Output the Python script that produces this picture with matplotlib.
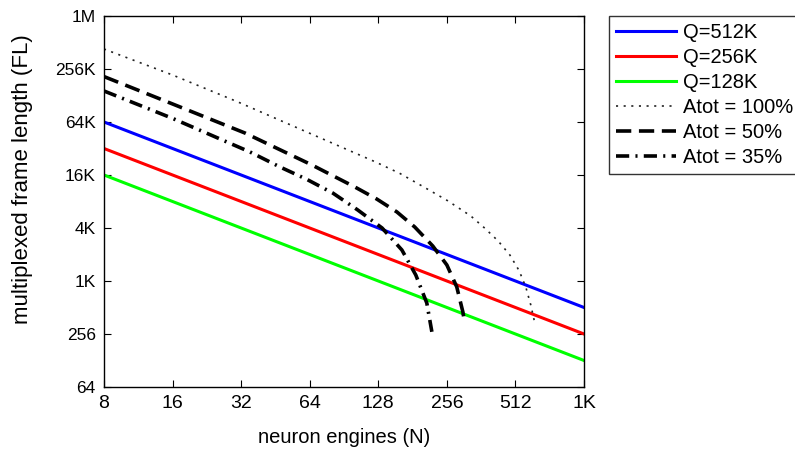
import matplotlib
matplotlib.use("Agg")
import matplotlib.pyplot as plt

plt.rcParams['font.family'] = ['Liberation Sans', 'DejaVu Sans']
plt.rcParams['lines.scale_dashes'] = False

# neuron engines (N) and frame lengths
n_q = [8, 1024]
fl_q512 = [65536, 512]
fl_q256 = [32768, 256]
fl_q128 = [16384, 128]

n_a100 = [8, 16, 31, 63.5, 123.7, 159, 201.6, 257.8, 326, 376, 430, 484, 531.5, 569, 598, 623]
fl_a100 = [442000, 224000, 110600, 49200, 23200, 17100, 12070, 8370, 5610, 4065, 2914, 2021, 1341, 868, 546, 339]

n_a50 = [8, 16, 33.2, 65.4, 101, 126, 154.5, 185, 222, 256, 283, 301, 304]
fl_a50 = [215000, 105000, 49200, 21300, 11970, 8740, 6230, 4205, 2558, 1557, 876, 455, 388]

n_a35 = [8, 16, 35, 47.4, 62.2, 80.9, 104, 133, 162.5, 187, 209, 220]
fl_a35 = [147500, 72000, 29900, 20200, 14600, 10200, 6560, 4096, 2304, 1198, 576, 271]

xticks = [8, 16, 32, 64, 128, 256, 512, 1024]
xlabels = ['8', '16', '32', '64', '128', '256', '512', '1K']
yticks = [64, 256, 1024, 4096, 16384, 65536, 262144, 1048576]
ylabels = ['64', '256', '1K', '4K', '16K', '64K', '256K', '1M']

fig = plt.figure(figsize=(7.95, 4.49), dpi=100)
ax = fig.add_axes([0.1308, 0.1381, 0.6038, 0.8263])

ax.plot(n_q, fl_q512, color='#0000ff', lw=2.2, label='Q=512K')
ax.plot(n_q, fl_q256, color='#ff0000', lw=2.2, label='Q=256K')
ax.plot(n_q, fl_q128, color='#00ff00', lw=2.2, label='Q=128K')
ax.plot(n_a100, fl_a100, color='#222222', lw=1.2, linestyle=(0, (1.5, 4)), label='Atot = 100%')
ax.plot(n_a50, fl_a50, color='black', lw=2.6, linestyle=(0, (11, 5.5)), label='Atot = 50%')
ax.plot(n_a35, fl_a35, color='black', lw=2.6, linestyle=(0, (9.5, 4.5, 1.5, 4.5)), label='Atot = 35%')

ax.set_xscale('log', base=2)
ax.set_yscale('log', base=2)
ax.set_xlim(8, 1024)
ax.set_ylim(64, 1048576)
ax.set_xticks(xticks)
ax.set_xticklabels(xlabels)
ax.set_yticks(yticks)
ax.set_yticklabels(ylabels)
ax.minorticks_off()
ax.tick_params(direction='in', top=True, right=True, length=5, width=0.8)
ax.tick_params(axis='x', labelsize=14, pad=6)
ax.tick_params(axis='y', labelsize=12.5, pad=6)
for s in ax.spines.values():
    s.set_linewidth(1.0)

ax.set_xlabel('neuron engines (N)', fontsize=14.5, labelpad=11)
ax.set_ylabel('multiplexed frame length (FL)', fontsize=16)
ax.yaxis.set_label_coords(-0.148, 0.56)

leg = ax.legend(loc='upper left', bbox_to_anchor=(0.766, 0.9644), bbox_transform=fig.transFigure,
                fontsize=14.5, handlelength=3.0, frameon=True, fancybox=False, borderaxespad=0,
                labelspacing=0.3, handletextpad=0.35, borderpad=0.35)
leg.get_frame().set_edgecolor('black')
leg.get_frame().set_linewidth(1.0)

fig.savefig('out.png', dpi=100)
